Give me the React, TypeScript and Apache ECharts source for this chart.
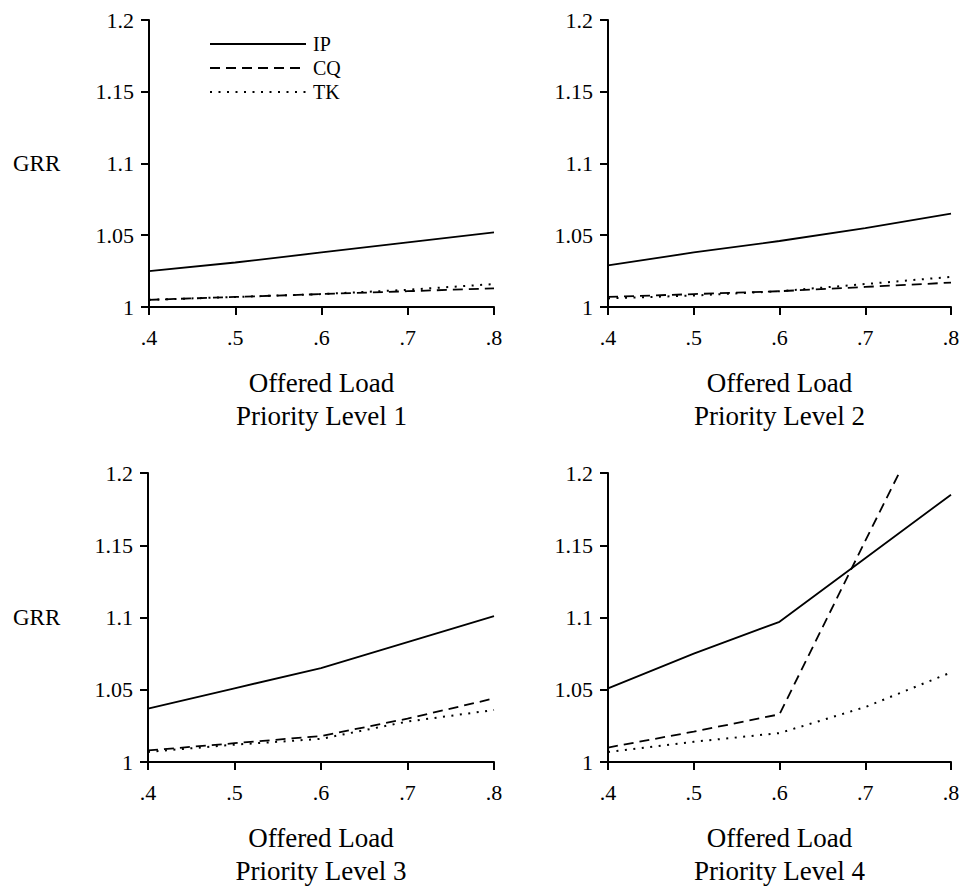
import React, { useEffect, useRef } from "react";
import * as echarts from "echarts";

const X = [0.4, 0.5, 0.6, 0.7, 0.8];
const SERIES_NAMES = ["IP", "CQ", "TK"];
const PANEL_TITLES = ["Priority Level 1", "Priority Level 2", "Priority Level 3", "Priority Level 4"];
const X_TITLE = "Offered Load";
const Y_TITLE = "GRR";

const IP1 = [1.025, 1.031, 1.038, 1.045, 1.052];
const CQ1 = [1.005, 1.007, 1.009, 1.011, 1.013];
const TK1 = [1.005, 1.007, 1.009, 1.012, 1.016];
const IP2 = [1.029, 1.038, 1.046, 1.055, 1.065];
const CQ2 = [1.007, 1.009, 1.011, 1.014, 1.017];
const TK2 = [1.006, 1.008, 1.011, 1.016, 1.021];
const IP3 = [1.037, 1.051, 1.065, 1.083, 1.101];
const CQ3 = [1.008, 1.013, 1.018, 1.03, 1.044];
const TK3 = [1.007, 1.012, 1.016, 1.028, 1.036];
const IP4 = [1.051, 1.075, 1.097, 1.141, 1.185];
const CQ4 = [1.01, 1.021, 1.033, 1.153, 1.272];
const TK4 = [1.007, 1.014, 1.02, 1.038, 1.062];

const PANELS = [
  [IP1, CQ1, TK1],
  [IP2, CQ2, TK2],
  [IP3, CQ3, TK3],
  [IP4, CQ4, TK4],
];

const FONT = "Liberation Serif";

const GRIDS = [
  { left: 149, top: 20, width: 345, height: 287 },
  { left: 608, top: 20, width: 343, height: 287 },
  { left: 148, top: 473, width: 346, height: 289 },
  { left: 608, top: 473, width: 343, height: 289 },
];

const LINE_STYLES = [
  { type: "solid", width: 1.8 },
  { type: [10, 6], width: 1.8 },
  { type: [2, 6.5], width: 2 },
];

export default function App() {
  const ref = useRef<HTMLDivElement>(null);
  useEffect(() => {
    if (!ref.current) return;
    const chart = echarts.init(ref.current, null, { renderer: "svg" });

    const axisLine = { show: true, onZero: false, lineStyle: { color: "#000", width: 2 } };
    const axisTick = { show: true, length: 8, lineStyle: { color: "#000", width: 2 } };

    const xAxis = GRIDS.map((_, i) => ({
      type: "value",
      gridIndex: i,
      min: 0.4,
      max: 0.8,
      interval: 0.1,
      axisLine,
      axisTick,
      splitLine: { show: false },
      axisLabel: {
        color: "#000",
        fontFamily: FONT,
        fontSize: 22,
        margin: 19,
        formatter: (v: number) => v.toFixed(1).replace(/^0/, ""),
      },
    }));
    const yAxis = GRIDS.map((_, i) => ({
      type: "value",
      gridIndex: i,
      min: 1,
      max: 1.2,
      interval: 0.05,
      axisLine,
      axisTick,
      splitLine: { show: false },
      axisLabel: {
        color: "#000",
        fontFamily: FONT,
        fontSize: 22,
        margin: 15,
        formatter: (v: number) => String(parseFloat(v.toFixed(2))),
      },
    }));

    const series: any[] = [];
    PANELS.forEach((panel, p) => {
      panel.forEach((vals, s) => {
        series.push({
          type: "line",
          name: SERIES_NAMES[s],
          xAxisIndex: p,
          yAxisIndex: p,
          data: X.map((x, k) => [x, vals[k]]),
          symbol: "none",
          smooth: false,
          clip: true,
          lineStyle: { color: "#000", ...LINE_STYLES[s] },
          itemStyle: { color: "#000" },
        });
      });
    });

    const graphic: any[] = [];
    GRIDS.forEach((g, i) => {
      const cx = g.left + g.width / 2;
      const bottom = g.top + g.height;
      graphic.push({
        type: "text",
        x: cx,
        y: bottom + 76,
        style: { text: X_TITLE, align: "center", verticalAlign: "middle", font: `27px ${FONT}`, fill: "#000" },
      });
      graphic.push({
        type: "text",
        x: cx,
        y: bottom + 109,
        style: { text: PANEL_TITLES[i], align: "center", verticalAlign: "middle", font: `27px ${FONT}`, fill: "#000" },
      });
      if (i % 2 === 0) {
        graphic.push({
          type: "text",
          x: 13,
          y: g.top + g.height / 2,
          style: { text: Y_TITLE, align: "left", verticalAlign: "middle", font: `23px ${FONT}`, fill: "#000" },
        });
      }
    });

    chart.setOption({
      animation: false,
      backgroundColor: "#fff",
      grid: GRIDS.map((g) => ({ ...g, containLabel: false })),
      xAxis,
      yAxis,
      series,
      graphic,
      legend: {
        data: SERIES_NAMES,
        orient: "vertical",
        left: 209,
        top: 34,
        padding: 0,
        itemWidth: 96,
        itemHeight: 14,
        itemGap: 4,
        selectedMode: false,
        itemStyle: { opacity: 0, borderWidth: 0 },
        textStyle: { color: "#000", fontFamily: FONT, fontSize: 20, padding: [0, 0, 0, 2] },
      },
    });
    return () => chart.dispose();
  }, []);
  return (
    <div
      ref={ref}
      style={{ position: "absolute", left: 0, top: 0, width: 974, height: 887, background: "#fff" }}
    />
  );
}
